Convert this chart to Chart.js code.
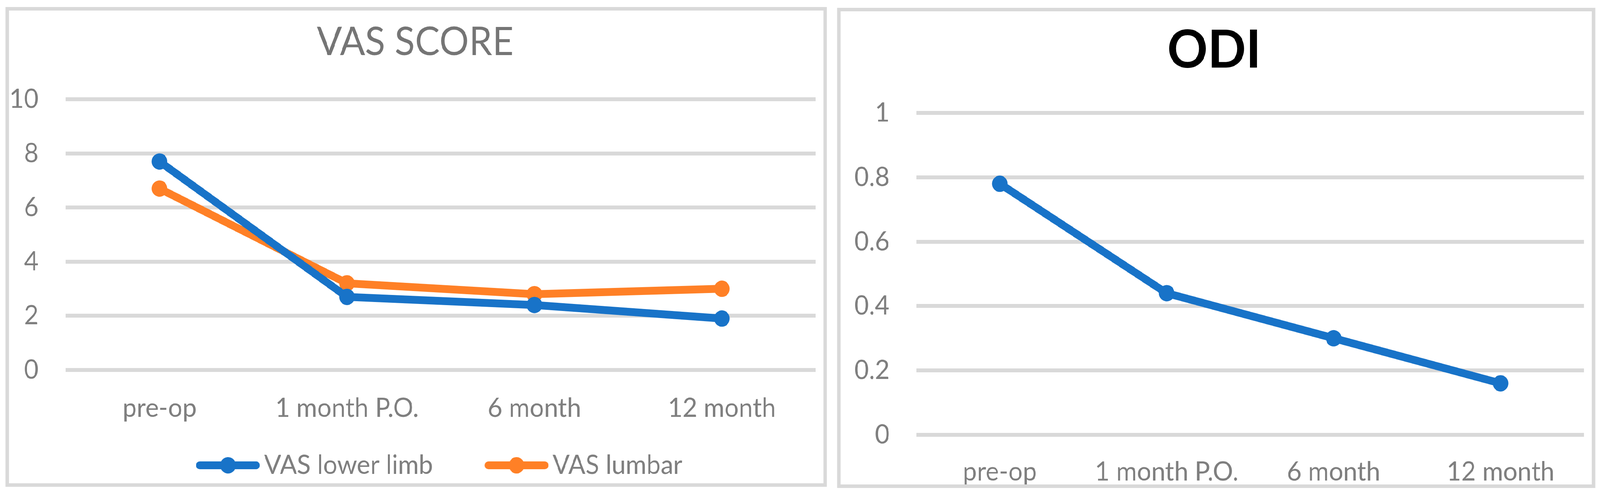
<!DOCTYPE html>
<html>
<head>
<meta charset="utf-8">
<script src="https://cdn.jsdelivr.net/npm/chart.js@4"></script>
<style>
  html, body { margin: 0; padding: 0; background: #fff; overflow: hidden; }
  #stage { position: absolute; left: 0; top: 0; width: 4304px; height: 1267px; transform-origin: 0 0; background: #fff; }
  .panel { position: absolute; border: 9px solid #d9d9d9; background: #fff; }
  #leftPanel { left: 15px; top: 18px; width: 2191px; height: 1210px; }
  #rightPanel { left: 2252px; top: 20px; width: 2021px; height: 1211px; }
  canvas { display: block; }
</style>
</head>
<body>
<div id="stage">
  <div class="panel" id="leftPanel"><canvas id="vasChart" width="2191" height="1210"></canvas></div>
  <div class="panel" id="rightPanel"><canvas id="odiChart" width="2021" height="1211"></canvas></div>
</div>
<script>
// data
const timePoints = ['pre-op', '1 month P.O.', '6 month', '12 month'];
const vasLowerLimb = [7.7, 2.7, 2.4, 1.9];
const vasLumbar = [6.7, 3.2, 2.8, 3.0];
const odiScores = [0.78, 0.44, 0.30, 0.16];
const vasAxis = { min: 0, max: 10, step: 2 };
const odiAxis = { min: 0, max: 1, step: 0.2 };

// stretch the 4304x1267 layout over the real viewport
const sx = window.innerWidth / 4304;
const sy = window.innerHeight / 1267;
document.getElementById('stage').style.transform = 'scale(' + sx + ',' + sy + ')';

const BLUE = '#1873c8';
const ORANGE = '#ff8026';
const GRID = '#d9d9d9';
const GRAY_TEXT = '#7f7f7f';
const FONT = 'Lato, "Open Sans", sans-serif';

Chart.defaults.font.family = FONT;
Chart.defaults.color = GRAY_TEXT;
Chart.defaults.animation = false;

// legend marker: line with a dot, with empty room on the left as spacing
const LEGEND_BOX = 278;
function legendMarker(color) {
    const c = document.createElement('canvas');
    c.width = LEGEND_BOX + 46;
    c.height = 46;
    const g = c.getContext('2d');
    g.strokeStyle = color;
    g.lineWidth = 20;
    g.lineCap = 'round';
    g.beginPath();
    g.moveTo(c.width - 172 + 10, 23);
    g.lineTo(c.width - 10, 23);
    g.stroke();
    g.fillStyle = color;
    g.beginPath();
    g.arc(c.width - 86, 23, 21, 0, Math.PI * 2);
    g.fill();
    return c;
}
const markers = [legendMarker(BLUE), legendMarker(ORANGE)];

function lineSet(label, data, color) {
    return {
        label: label,
        data: data,
        borderColor: color,
        backgroundColor: color,
        borderWidth: 20,
        pointRadius: 21,
        pointHoverRadius: 21,
        pointBorderWidth: 0,
        pointBackgroundColor: color,
        tension: 0
    };
}

const plainNumber = (v) => String(Number(Number(v).toFixed(2)));

// VAS chart
new Chart(document.getElementById('vasChart'), {
    type: 'line',
    data: {
        labels: timePoints,
        datasets: [
            lineSet('VAS lower limb', vasLowerLimb, BLUE),
            lineSet('VAS lumbar', vasLumbar, ORANGE)
        ]
    },
    options: {
        responsive: false,
        layout: { padding: { left: 0, right: 5, top: 0, bottom: 2 } },
        plugins: {
            title: {
                display: true,
                text: 'VAS SCORE',
                color: '#757575',
                font: { size: 100, weight: 'normal' },
                padding: { top: 22, bottom: 85 }
            },
            legend: {
                position: 'bottom',
                labels: {
                    usePointStyle: true,
                    pointStyleWidth: LEGEND_BOX,
                    padding: 10,
                    color: GRAY_TEXT,
                    font: { size: 68 },
                    generateLabels: (chart) => {
                        const items = Chart.defaults.plugins.legend.labels.generateLabels(chart);
                        items.forEach((it, i) => { it.pointStyle = markers[i]; });
                        return items;
                    }
                }
            },
            tooltip: { enabled: false }
        },
        scales: {
            x: {
                offset: true,
                grid: { display: false, drawTicks: false },
                border: { display: false },
                ticks: { padding: 57, font: { size: 68 }, color: GRAY_TEXT },
                afterFit: (scale) => { scale.height = 200; }
            },
            y: {
                min: vasAxis.min,
                max: vasAxis.max,
                ticks: { stepSize: vasAxis.step, padding: 73, font: { size: 68 }, color: GRAY_TEXT, callback: plainNumber },
                grid: { color: GRID, lineWidth: 10, drawTicks: false },
                border: { display: false },
                afterFit: (scale) => { scale.width = 153; }
            }
        }
    }
});

// ODI chart
new Chart(document.getElementById('odiChart'), {
    type: 'line',
    data: {
        labels: timePoints,
        datasets: [lineSet('ODI', odiScores, BLUE)]
    },
    options: {
        responsive: false,
        layout: { padding: { left: 0, right: 11, top: 0, bottom: 0 } },
        plugins: {
            title: {
                display: true,
                text: 'ODI',
                color: '#000000',
                font: { size: 135, weight: 'bold' },
                padding: { top: 19, bottom: 79 }
            },
            legend: { display: false },
            tooltip: { enabled: false }
        },
        scales: {
            x: {
                offset: true,
                grid: { display: false, drawTicks: false },
                border: { display: false },
                ticks: { padding: 54, font: { size: 68 }, color: GRAY_TEXT },
                afterFit: (scale) => { scale.height = 127; }
            },
            y: {
                min: odiAxis.min,
                max: odiAxis.max,
                ticks: { stepSize: odiAxis.step, padding: 72, font: { size: 68 }, color: GRAY_TEXT, callback: plainNumber },
                grid: { color: GRID, lineWidth: 10, drawTicks: false },
                border: { display: false },
                afterFit: (scale) => { scale.width = 204; }
            }
        }
    }
});
</script>
</body>
</html>
